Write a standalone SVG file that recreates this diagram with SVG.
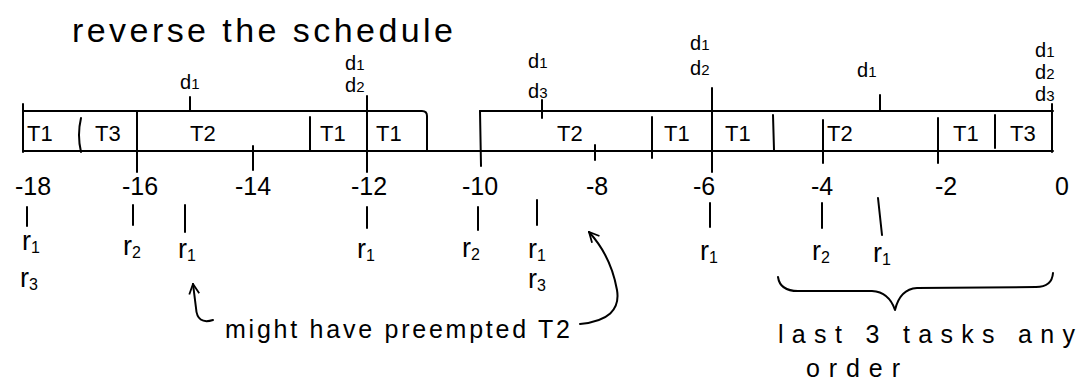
<svg xmlns="http://www.w3.org/2000/svg" width="1089" height="390" viewBox="0 0 1089 390">
<style>
.ln{stroke:#000;stroke-width:2;fill:none;stroke-linecap:round;stroke-linejoin:round}
.tx{font-family:"Liberation Sans",Arial,sans-serif;fill:#000}
.ttl{font-size:34px}
.tk{font-size:22px}
.num{font-size:25px;text-anchor:middle}
.r{font-size:27px}
.d{font-size:20px}
.sb{font-size:16px}
.ds{font-size:15px}
.note{font-size:25px}
</style>
<defs>
<marker id="ah" viewBox="0 0 12 12" refX="11" refY="6" markerWidth="12" markerHeight="12" markerUnits="userSpaceOnUse" orient="auto">
<path d="M1 1 L11 6 L1 11" fill="none" stroke="#000" stroke-width="1.8"/>
</marker>
</defs>
<rect width="1089" height="390" fill="#fff"/>

<g id="title"><text class="tx ttl" x="72" y="42" textLength="381" lengthAdjust="spacing">reverse the schedule</text></g>

<g id="schedule-bar">
<path class="ln" d="M23 151 L1053 151"/>
<path class="ln" d="M23 104 L23 152"/>
<path class="ln" d="M23 111 L422 111 Q427 111 427 116 L427 151"/>
<path class="ln" d="M480 111 L1053 111"/>
<path class="ln" d="M1052 104 L1052 152"/>
<path class="ln" d="M81 118 Q77 135 81 152"/>
<path class="ln" d="M137 111 L137 172"/>
<path class="ln" d="M253 146 L253 170"/>
<path class="ln" d="M310 117 L310 150"/>
<path class="ln" d="M367 96 L367 172"/>
<path class="ln" d="M480 111 L481 166"/>
<path class="ln" d="M595 145 L595 160"/>
<path class="ln" d="M652 117 L652 158"/>
<path class="ln" d="M712 88 L712 172"/>
<path class="ln" d="M773 115 L774 150"/>
<path class="ln" d="M823 120 L823 163"/>
<path class="ln" d="M938 118 L938 163"/>
<path class="ln" d="M995 115 L995 148"/>
<path class="ln" d="M190 97 L190 111"/>
<path class="ln" d="M542 100 L542 118"/>
<path class="ln" d="M880 95 L880 111"/>
</g>

<g id="tasks">
<text class="tx tk" x="27" y="141">T1</text>
<text class="tx tk" x="95" y="141">T3</text>
<text class="tx tk" x="190" y="141">T2</text>
<text class="tx tk" x="320" y="141">T1</text>
<text class="tx tk" x="376" y="141">T1</text>
<text class="tx tk" x="557" y="141">T2</text>
<text class="tx tk" x="664" y="141">T1</text>
<text class="tx tk" x="725" y="141">T1</text>
<text class="tx tk" x="827" y="141">T2</text>
<text class="tx tk" x="953" y="141">T1</text>
<text class="tx tk" x="1010" y="141">T3</text>
</g>

<g id="axis-numbers">
<text class="tx num" x="33" y="195">-18</text>
<text class="tx num" x="140" y="195">-16</text>
<text class="tx num" x="253" y="195">-14</text>
<text class="tx num" x="369" y="195">-12</text>
<text class="tx num" x="480" y="195">-10</text>
<text class="tx num" x="597" y="195">-8</text>
<text class="tx num" x="704" y="195">-6</text>
<text class="tx num" x="822" y="195">-4</text>
<text class="tx num" x="946" y="195">-2</text>
<text class="tx num" x="1062" y="195">0</text>
</g>

<g id="deadlines">
<text class="tx d" x="180" y="89">d<tspan class="ds">1</tspan></text>
<text class="tx d" x="345" y="70">d<tspan class="ds">1</tspan></text>
<text class="tx d" x="345" y="92">d<tspan class="ds">2</tspan></text>
<text class="tx d" x="528" y="68">d<tspan class="ds">1</tspan></text>
<text class="tx d" x="528" y="98">d<tspan class="ds">3</tspan></text>
<text class="tx d" x="690" y="50">d<tspan class="ds">1</tspan></text>
<text class="tx d" x="690" y="75">d<tspan class="ds">2</tspan></text>
<text class="tx d" x="857" y="77">d<tspan class="ds">1</tspan></text>
<text class="tx d" x="1035" y="57">d<tspan class="ds">1</tspan></text>
<text class="tx d" x="1035" y="79">d<tspan class="ds">2</tspan></text>
<text class="tx d" x="1035" y="101">d<tspan class="ds">3</tspan></text>
</g>

<g id="releases">
<path class="ln" d="M27 207 L27 226"/>
<path class="ln" d="M133 205 L133 225"/>
<path class="ln" d="M185 205 L185 232"/>
<path class="ln" d="M367 207 L367 228"/>
<path class="ln" d="M478 207 L478 230"/>
<path class="ln" d="M537 200 L537 225"/>
<path class="ln" d="M710 203 L710 227"/>
<path class="ln" d="M822 203 L822 228"/>
<path class="ln" d="M878 198 L882 235"/>
<text class="tx r" x="22" y="250">r<tspan class="sb" dy="3">1</tspan></text>
<text class="tx r" x="20" y="287">r<tspan class="sb" dy="3">3</tspan></text>
<text class="tx r" x="123" y="255">r<tspan class="sb" dy="3">2</tspan></text>
<text class="tx r" x="178" y="258">r<tspan class="sb" dy="3">1</tspan></text>
<text class="tx r" x="357" y="258">r<tspan class="sb" dy="3">1</tspan></text>
<text class="tx r" x="462" y="257">r<tspan class="sb" dy="3">2</tspan></text>
<text class="tx r" x="528" y="258">r<tspan class="sb" dy="3">1</tspan></text>
<text class="tx r" x="528" y="288">r<tspan class="sb" dy="3">3</tspan></text>
<text class="tx r" x="700" y="260">r<tspan class="sb" dy="3">1</tspan></text>
<text class="tx r" x="812" y="260">r<tspan class="sb" dy="3">2</tspan></text>
<text class="tx r" x="873" y="262">r<tspan class="sb" dy="3">1</tspan></text>
</g>

<g id="connectors">
<path class="ln" d="M213 320 Q197 325 196 308 L193 284" marker-end="url(#ah)"/>
<path class="ln" d="M580 324 Q622 320 617 290 Q611 256 589 232" marker-end="url(#ah)"/>
<path class="ln" d="M778 277 Q780 291 798 291 L872 291 Q889 292 895 310 Q900 289 917 288 L1036 287 Q1052 287 1053 273"/>
</g>

<g id="notes">
<text class="tx note" x="225" y="338" textLength="345" lengthAdjust="spacing">might have preempted T2</text>
<text class="tx note" x="778" y="343" textLength="297" lengthAdjust="spacing">last 3 tasks any</text>
<text class="tx note" x="806" y="377" textLength="94" lengthAdjust="spacing">order</text>
</g>
</svg>
